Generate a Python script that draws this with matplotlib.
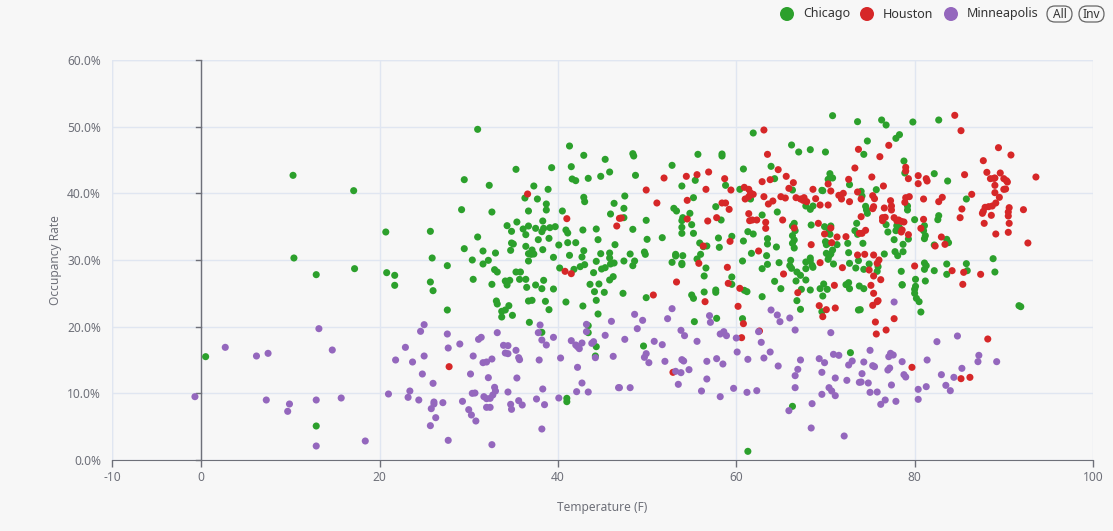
import matplotlib.pyplot as plt
import matplotlib.patches as patches
import numpy as np

# (temperature F, occupancy %)
chicago = [
    (10.3, 42.7), (17.1, 40.4), (20.7, 34.2), (25.7, 34.3), (10.4, 30.3), (12.9, 27.8), (17.2, 28.7),
    (20.8, 28.1), (21.7, 27.7), (21.7, 26.2), (25.7, 26.7), (25.9, 30.3), (26.0, 25.4), (0.5, 15.5), (12.9, 5.1),
    (31.0, 49.6), (41.3, 47.1), (42.9, 45.7), (45.3, 45.1), (35.3, 43.6), (39.3, 43.85), (41.5, 44.0), (45.8, 43.2),
    (44.8, 42.55), (41.6, 42.15), (42.0, 41.9), (43.4, 42.25), (29.5, 42.05), (32.3, 41.2), (37.3, 41.1), (38.9, 40.6),
    (36.3, 39.3), (37.7, 39.15), (42.9, 39.4), (43.0, 38.75), (38.7, 38.4), (46.3, 38.5), (36.7, 37.35), (38.7, 37.5),
    (40.5, 37.35), (45.9, 36.9), (29.2, 37.55), (32.6, 37.2), (35.4, 35.7), (34.3, 35.15), (38.3, 35.85), (34.8, 34.3),
    (36.1, 34.65), (36.7, 35.1), (37.5, 34.75), (38.4, 34.75), (39.1, 34.85), (39.7, 35.0), (38.2, 34.25), (40.9, 34.5),
    (41.1, 34.05), (42.8, 34.5), (44.3, 34.65), (36.4, 33.8), (31.0, 33.45), (39.0, 33.25), (37.8, 33.05), (44.5, 33.05),
    (34.8, 32.55), (35.0, 32.4), (41.1, 32.6), (42.0, 32.6), (40.1, 32.25), (46.4, 32.3), (29.5, 31.7), (36.4, 32.05),
    (34.7, 31.45), (37.1, 31.5), (38.3, 31.55), (36.7, 30.95), (37.3, 30.9), (37.0, 30.85), (42.9, 31.4), (41.3, 30.7),
    (44.8, 30.95), (45.8, 31.05), (31.6, 31.35), (33.0, 31.05), (27.6, 29.15), (30.4, 30.0), (32.2, 29.95), (31.6, 29.4),
    (36.7, 29.85), (39.5, 30.4), (42.7, 30.45), (44.3, 29.8), (45.8, 30.3), (45.9, 29.4), (46.3, 29.55), (40.2, 28.8),
    (41.8, 28.6), (42.5, 29.0), (43.0, 29.3), (44.0, 28.1), (44.9, 28.65), (45.3, 28.85), (46.2, 27.5), (45.8, 27.0),
    (32.9, 28.55), (33.2, 28.2), (35.3, 28.2), (35.8, 28.2), (30.5, 27.1), (32.6, 26.35), (34.1, 26.85), (34.6, 26.95),
    (34.3, 26.25), (36.4, 27.1), (35.7, 27.1), (37.5, 26.25), (38.4, 26.95), (36.5, 25.9), (38.2, 25.7), (39.5, 25.65),
    (43.6, 26.35), (44.6, 26.4), (44.1, 25.25), (45.2, 25.15),
    (27.6, 22.5), (33.1, 23.85), (33.2, 23.4), (34.5, 23.15), (34.1, 22.5), (33.7, 22.3), (33.7, 21.45), (34.9, 21.7),
    (36.7, 23.85), (37.1, 23.95), (38.6, 23.8), (39.0, 22.55), (40.9, 23.7), (42.8, 23.1), (44.5, 21.9), (44.3, 23.95),
    (36.8, 20.65), (38.2, 19.15), (43.4, 20.15), (43.4, 19.1), (44.3, 17.0), (44.2, 15.6), (41.0, 9.25), (41.0, 8.75),
    (70.8, 51.65), (73.6, 50.75), (61.9, 49.05), (66.2, 47.25), (67.0, 46.2), (68.3, 46.55), (70.0, 46.2), (48.4, 45.95),
    (48.5, 45.6), (55.7, 45.85), (58.4, 45.9), (58.4, 45.6), (52.8, 44.2), (48.7, 42.7), (55.4, 41.95), (60.8, 43.65),
    (63.9, 44.05), (64.3, 42.2), (70.5, 42.95), (70.3, 42.1), (70.8, 42.3), (72.7, 41.3), (53.9, 41.1), (58.8, 41.2),
    (60.4, 40.6), (61.6, 39.15), (66.3, 40.5), (69.6, 40.45), (69.7, 40.4), (67.8, 38.1), (68.3, 37.6), (68.6, 38.1),
    (47.5, 39.6), (47.4, 37.75), (47.4, 36.35), (55.2, 39.35), (53.0, 37.75), (53.3, 37.35), (49.9, 35.95), (48.4, 34.6),
    (50.0, 33.1), (51.7, 33.35), (54.0, 36.35), (53.9, 35.9), (54.8, 37.0), (55.0, 35.3), (53.9, 34.9), (53.9, 34.0),
    (55.2, 34.0), (58.3, 36.0), (57.7, 38.0), (58.0, 33.3), (59.5, 33.55), (58.1, 31.9), (60.8, 32.85), (62.9, 36.75),
    (61.3, 34.25), (61.9, 33.9), (61.7, 31.0), (63.5, 33.2), (63.5, 32.4), (64.5, 31.95), (63.4, 30.65), (64.6, 37.2),
    (66.3, 35.1), (66.5, 35.5), (66.6, 34.4), (66.3, 33.65), (66.5, 33.0), (66.3, 32.5), (66.5, 31.8), (68.4, 35.25),
    (69.9, 35.0), (70.6, 35.1), (70.4, 34.5), (70.5, 33.85), (70.0, 32.75), (70.1, 32.3), (70.3, 32.5), (71.3, 32.3),
    (72.5, 32.5), (70.1, 31.0), (70.4, 30.6), (70.6, 30.9), (70.8, 31.5), (73.3, 34.4), (73.5, 35.5), (73.6, 33.85),
    (72.6, 31.1), (48.1, 30.9), (47.4, 29.85), (48.6, 29.85), (48.4, 29.15), (49.7, 31.2), (49.8, 30.85), (53.2, 30.85),
    (53.2, 30.6), (54.0, 30.65), (52.8, 29.65), (53.9, 29.5), (53.9, 29.3), (55.6, 30.15), (55.9, 32.55), (56.0, 30.85),
    (56.3, 32.0), (56.7, 32.1), (56.6, 28.8), (56.4, 27.6), (60.7, 29.85), (59.5, 27.45), (59.5, 26.35), (62.9, 28.7),
    (63.5, 29.35), (64.8, 29.6), (66.1, 29.95), (66.0, 29.15), (66.2, 28.75), (66.8, 28.2), (67.2, 27.7), (67.8, 29.7),
    (67.8, 28.7), (68.3, 30.3), (68.3, 29.9), (68.5, 29.2), (68.6, 28.9), (70.3, 30.1), (70.9, 29.4), (72.7, 29.5),
    (73.4, 28.8), (73.7, 29.9), (64.3, 26.8), (66.7, 26.85), (67.8, 27.0), (69.8, 26.4), (72.6, 26.6), (72.3, 26.3),
    (65.0, 25.7), (67.3, 25.6), (69.4, 25.7),
    (47.3, 25.0), (49.9, 24.35), (55.0, 24.75), (55.2, 24.25), (56.4, 25.2), (57.7, 25.5), (57.7, 25.15), (60.9, 25.45),
    (61.2, 25.25), (62.9, 24.5), (66.8, 23.9), (67.2, 22.6), (68.3, 25.5), (70.2, 25.6), (69.7, 24.6), (72.7, 25.7),
    (73.8, 26.1), (69.6, 22.25), (73.7, 22.5), (60.7, 21.2), (57.8, 21.25), (55.3, 20.75), (49.6, 17.1), (72.8, 16.1),
    (66.3, 8.05), (61.3, 1.3),
    (76.3, 51.0), (76.8, 50.25), (79.8, 50.7), (82.7, 51.0), (77.9, 48.25), (78.3, 48.8), (74.7, 47.85), (74.3, 45.85),
    (78.8, 44.85), (78.9, 43.05), (82.2, 42.95), (83.7, 41.85), (75.7, 40.55), (74.0, 40.3), (74.1, 39.6), (85.8, 39.15),
    (74.5, 38.05), (74.6, 37.5), (74.7, 37.0), (79.2, 38.1), (79.2, 37.5), (80.0, 36.05), (82.7, 36.65), (82.6, 36.05),
    (76.8, 35.3), (78.0, 35.15), (78.3, 34.85), (77.0, 34.2), (77.9, 34.4), (81.1, 35.15), (81.0, 34.4), (81.2, 33.65),
    (81.1, 33.2), (82.2, 32.25), (83.6, 33.1), (83.8, 32.6), (77.7, 33.05), (78.7, 32.35), (79.3, 33.15), (78.7, 31.25),
    (77.8, 31.25), (78.1, 30.65), (76.6, 30.9), (74.2, 32.5), (88.8, 30.2), (89.0, 28.2), (85.8, 29.45), (85.9, 28.4),
    (83.6, 29.4), (83.6, 27.85), (82.2, 28.4), (81.1, 29.55), (81.3, 29.15), (81.1, 28.6), (81.2, 26.85), (80.1, 27.1),
    (80.1, 26.05), (78.5, 28.3), (78.6, 26.3), (75.8, 28.3), (75.9, 29.0), (74.9, 29.4), (74.3, 28.6),
    (74.3, 25.7), (78.6, 26.25), (80.0, 25.6), (80.0, 25.0), (80.2, 24.25), (80.5, 23.75), (80.7, 22.2), (73.9, 22.55),
    (91.7, 23.15), (91.9, 23.0),
]

houston = [
    (36.6, 39.9), (41.0, 36.2), (46.9, 36.25), (46.6, 35.1), (40.8, 28.3), (41.5, 27.95), (27.8, 14.0),
    (63.1, 49.5), (73.7, 46.6), (63.5, 45.85), (51.9, 42.3), (54.4, 42.55), (55.6, 42.8), (56.9, 43.2), (58.7, 42.2),
    (64.7, 43.55), (65.6, 42.55), (63.8, 42.05), (62.9, 41.75), (66.4, 41.6), (73.3, 43.8), (72.6, 42.1), (70.3, 41.4),
    (49.9, 40.5), (56.6, 40.6), (59.4, 40.5), (60.9, 40.9), (61.4, 40.6), (61.9, 39.85), (61.6, 40.05), (61.0, 39.15),
    (61.4, 39.5), (63.1, 39.5), (63.6, 38.4), (64.1, 38.85), (65.0, 39.5), (65.5, 39.3), (65.9, 40.75), (66.7, 39.35),
    (67.2, 39.15), (67.6, 39.35), (67.9, 38.75), (67.5, 38.95), (68.6, 40.6), (70.6, 40.35), (68.9, 39.2), (69.4, 38.25),
    (70.3, 38.25), (71.5, 39.7), (71.8, 39.15), (72.0, 40.0), (72.7, 38.75), (73.6, 40.2), (47.1, 36.3), (51.1, 38.55),
    (54.5, 38.95), (54.5, 36.15), (56.8, 35.85), (57.8, 36.35), (58.4, 38.55), (58.8, 38.55), (59.2, 37.6), (59.3, 32.8),
    (61.4, 36.95), (61.5, 35.9), (61.8, 36.0), (62.3, 36.0), (63.3, 35.65), (63.3, 34.75), (62.5, 31.35), (65.2, 36.0),
    (66.5, 34.8), (68.4, 32.3), (69.2, 35.5), (69.9, 33.9), (70.6, 34.8), (71.3, 33.45), (72.3, 33.5), (70.7, 32.6),
    (73.8, 34.0), (73.6, 30.75), (56.3, 32.1), (55.8, 29.5), (59.0, 28.9), (59.1, 26.5), (53.3, 26.7), (60.4, 25.75),
    (65.3, 27.9), (69.4, 29.6), (71.9, 28.85), (71.0, 26.2),
    (50.7, 24.75), (56.5, 23.75), (66.9, 25.1), (69.3, 23.15), (70.1, 22.55), (71.1, 22.8), (69.7, 21.5), (60.2, 23.05),
    (60.8, 20.45), (62.6, 19.35), (60.6, 18.35), (52.9, 13.15),
    (84.5, 51.7), (85.2, 49.4), (77.1, 47.2), (89.4, 46.85), (90.8, 45.75), (76.1, 45.5), (87.7, 44.9), (79.0, 43.9),
    (79.0, 43.35), (79.3, 42.2), (80.4, 42.65), (80.4, 41.45), (81.3, 42.2), (81.4, 41.85), (85.6, 42.8), (75.2, 42.45),
    (76.5, 41.1), (88.1, 43.15), (88.5, 42.2), (88.9, 42.25), (89.0, 42.3), (89.6, 43.05), (90.0, 42.2), (90.4, 41.7),
    (90.3, 41.9), (93.6, 42.45), (89.0, 41.2), (90.2, 40.65), (90.0, 40.6), (89.0, 40.1), (89.5, 39.4), (86.4, 39.85),
    (89.1, 38.55), (88.7, 38.1), (88.3, 38.0), (87.9, 37.9), (87.7, 37.3), (87.6, 37.0), (88.6, 36.7), (90.6, 37.85),
    (90.5, 37.2), (90.5, 36.6), (92.2, 37.55), (85.3, 37.65), (85.1, 36.35), (87.8, 35.5), (90.6, 35.5), (89.1, 33.9),
    (90.5, 34.15), (92.7, 32.55), (81.0, 39.15), (82.7, 38.75), (83.1, 39.4), (79.0, 39.35), (79.4, 39.5), (78.9, 38.65),
    (77.3, 38.9), (77.4, 38.1), (77.4, 37.5), (76.6, 37.8), (75.4, 38.0), (75.3, 37.7), (75.3, 39.65), (75.5, 39.2),
    (74.0, 39.15), (76.4, 36.35), (76.7, 36.4), (76.4, 35.9), (77.7, 36.35), (78.0, 35.9), (78.2, 36.0), (78.5, 35.8),
    (78.8, 35.7), (78.6, 34.5), (78.5, 34.2), (79.3, 33.8), (81.0, 36.1), (80.7, 34.75), (83.0, 33.45), (82.3, 32.1),
    (83.4, 32.35), (74.5, 34.45), (74.0, 36.5), (74.1, 34.0), (74.4, 30.85), (75.4, 30.75), (76.0, 30.0), (75.8, 29.5),
    (74.9, 28.5), (75.4, 27.6), (76.2, 27.05), (75.1, 26.2), (80.0, 29.1), (84.2, 28.4), (85.5, 28.15), (87.4, 27.85),
    (85.4, 26.35),
    (75.4, 25.0), (75.8, 23.75), (75.3, 23.2), (75.9, 23.9), (75.6, 20.7), (77.7, 21.2), (76.8, 19.5), (75.7, 18.9),
    (88.2, 18.15), (79.7, 13.9), (85.2, 12.2), (86.2, 12.4),
]

minneapolis = [
    (-0.7, 9.5), (2.7, 16.9), (6.2, 15.6), (7.5, 16.0), (13.2, 19.7), (14.7, 16.5), (7.3, 9.0), (9.9, 8.4), (9.7, 7.3),
    (12.9, 9.0), (15.7, 9.3), (12.9, 2.1), (18.4, 2.85), (21.0, 9.9), (22.9, 16.9), (21.8, 15.0), (23.7, 14.7),
    (25.0, 15.6), (25.0, 20.3), (24.6, 19.3), (24.8, 12.9), (26.0, 11.5), (23.4, 10.35), (23.2, 9.4), (24.4, 9.0),
    (26.1, 8.7), (26.1, 8.4), (25.8, 7.7), (26.3, 6.35), (25.7, 5.15),
    (27.6, 18.9), (27.7, 16.8), (29.0, 17.4), (31.1, 18.1), (31.4, 18.4), (33.2, 19.1), (30.5, 15.6), (31.6, 14.6),
    (32.0, 14.7), (32.6, 15.15), (33.9, 17.2), (34.4, 17.15), (34.1, 16.05), (34.4, 15.95), (35.3, 16.45), (35.6, 15.35),
    (35.7, 15.05), (30.2, 12.9), (32.2, 12.35), (35.4, 12.3), (32.9, 10.9), (33.0, 10.35), (32.7, 9.75), (30.4, 10.0),
    (30.7, 10.05), (31.7, 9.5), (32.0, 9.2), (32.4, 9.25), (34.4, 10.2), (32.0, 7.9), (32.4, 7.9), (29.3, 8.8),
    (27.1, 8.6), (30.0, 7.55), (30.3, 6.75), (30.8, 5.85), (27.7, 2.95), (32.6, 2.3), (34.7, 8.35), (34.8, 7.6),
    (35.6, 8.9), (36.0, 8.25), (37.6, 9.15), (38.5, 8.3), (38.3, 10.65), (40.1, 9.3), (38.2, 4.65), (38.0, 20.25),
    (37.8, 19.1), (38.2, 18.0), (38.7, 17.25), (39.5, 18.4), (37.9, 15.0), (40.3, 15.3), (41.5, 17.9), (42.0, 17.25),
    (42.4, 16.7), (42.2, 17.0), (42.7, 17.55), (43.2, 20.35), (43.2, 19.25), (43.8, 17.5), (44.0, 17.75), (44.2, 15.35),
    (42.2, 13.9), (42.7, 11.55), (42.1, 10.25), (43.4, 10.2), (46.0, 20.8), (45.3, 18.7), (46.2, 15.55), (46.8, 10.85),
    (48.6, 21.85), (49.5, 20.95), (52.8, 22.7), (52.3, 21.2), (48.9, 19.7), (47.5, 18.1), (50.8, 17.8), (51.7, 17.3),
    (53.8, 19.45), (54.2, 18.65), (55.6, 17.8), (57.0, 21.65), (57.1, 20.65), (58.2, 18.9), (58.6, 19.25), (58.9, 18.65),
    (60.0, 18.3), (62.5, 19.25), (62.8, 17.65), (63.9, 22.5), (64.6, 21.75), (64.9, 20.75), (66.0, 21.3), (66.6, 19.5),
    (70.6, 19.1), (49.9, 15.95), (49.7, 15.4), (50.2, 14.6), (52.0, 14.8), (53.9, 15.05), (54.1, 14.85), (53.2, 13.3),
    (53.8, 13.1), (54.7, 13.55), (53.5, 11.35), (56.7, 14.8), (57.8, 15.2), (58.5, 14.4), (56.7, 12.15), (56.1, 10.35),
    (58.2, 9.5), (59.7, 10.75), (60.1, 16.2), (61.3, 15.1), (63.1, 15.3), (63.8, 16.2), (64.7, 14.1), (61.2, 10.15),
    (62.3, 10.4), (67.2, 15.0), (66.9, 13.6), (66.6, 12.65), (66.6, 10.85), (69.3, 15.2), (69.9, 14.6), (69.6, 13.15),
    (71.1, 12.3), (70.9, 15.85), (71.5, 15.7), (72.6, 14.25), (73.0, 14.85), (72.4, 11.95), (73.8, 11.65), (70.4, 10.85),
    (70.7, 10.35), (71.1, 9.65), (69.6, 9.85), (68.5, 8.45), (65.9, 7.4), (68.4, 4.8), (72.1, 3.6), (46.9, 10.85),
    (48.1, 10.85),
    (77.7, 23.7), (82.5, 17.75), (84.8, 18.6), (75.0, 16.45), (74.3, 14.7), (75.3, 14.15), (75.5, 14.0), (77.1, 15.5),
    (77.3, 16.0), (77.6, 15.75), (78.6, 14.75), (81.4, 15.0), (77.0, 13.5), (77.2, 13.8), (74.1, 12.95), (74.0, 11.7),
    (74.8, 11.55), (78.8, 12.8), (79.0, 12.45), (77.4, 11.25), (75.0, 10.15), (75.8, 10.2), (76.7, 9.0), (76.2, 8.35),
    (77.9, 8.8), (80.4, 10.6), (80.4, 9.1), (81.3, 11.0), (83.0, 12.8), (83.5, 11.2), (84.0, 10.4), (84.4, 12.4),
    (85.3, 13.75), (87.2, 15.7), (87.1, 14.75), (89.2, 14.75),
]

series_names = ["Chicago", "Houston", "Minneapolis"]
series_colors = ["#2ca02c", "#d62728", "#9467bd"]
x_ticks = [-10, 0, 20, 40, 60, 80, 100]
y_ticks = [0, 10, 20, 30, 40, 50, 60]

BG = "#f7f7f7"
GRID = "#e0e6f1"
AXIS = "#6e7079"
plt.rcParams['font.family'] = ['Noto Sans', 'DejaVu Sans']

W, H = 1113, 531
fig = plt.figure(figsize=(W / 100, H / 100), dpi=100, facecolor=BG)
ax = fig.add_axes([112 / W, (H - 460) / H, (1093 - 112) / W, 400 / H])
ax.set_facecolor(BG)
ax.set_xlim(-10, 100)
ax.set_ylim(0, 60)

for name, pts, col in zip(series_names, [chicago, houston, minneapolis], series_colors):
    arr = np.array(pts)
    ax.scatter(arr[:, 0], arr[:, 1], s=26, color=col, edgecolors='none', zorder=3, label=name)

# grid + axes
ax.set_xticks(x_ticks)
ax.set_yticks(y_ticks)
ax.set_xticklabels([str(t) for t in x_ticks])
ax.set_yticklabels(["%.1f%%" % t for t in y_ticks])
ax.grid(True, color=GRID, lw=1, zorder=0)
for s in ['top', 'right', 'left']:
    ax.spines[s].set_visible(False)
ax.spines['bottom'].set_color(AXIS)
ax.tick_params(axis='x', colors=AXIS, length=5, width=1, labelsize=8.6, pad=3)
ax.tick_params(axis='y', colors=AXIS, length=0, labelsize=8.6, pad=8)
for lbl in ax.get_xticklabels() + ax.get_yticklabels():
    lbl.set_color(AXIS)
ax.axvline(-10, color=GRID, lw=1, zorder=0)
ax.axhline(60, color=GRID, lw=1, zorder=0)

# y axis line sits at temperature 0
ax.axvline(0, color=AXIS, lw=1, zorder=2)
for t in y_ticks:
    ax.plot([-0.56, 0], [t, t], color=AXIS, lw=1, zorder=2, clip_on=False)

ax.set_xlabel("Temperature (F)", color=AXIS, fontsize=8.6, labelpad=12)
fig.text(55 / W, 1 - 260 / H, "Occupancy Rate", rotation=90, color=AXIS, fontsize=8.6,
         ha='center', va='center')

# legend drawn in pixel coordinates
lg = fig.add_axes([0, 0, 1, 1], facecolor='none')
lg.set_xlim(0, W)
lg.set_ylim(H, 0)
lg.axis('off')
leg_x = [787, 867, 951]
for name, col, cx in zip(series_names, series_colors, leg_x):
    lg.add_patch(patches.Circle((cx, 14), 7, fc=col, ec='none'))
    lg.text(cx + 16, 14, name, ha='left', va='center', fontsize=9, color='#333333')
for label, bx in [("All", 1047), ("Inv", 1079)]:
    lg.add_patch(patches.FancyBboxPatch((bx, 6), 25, 16, boxstyle="round,pad=0,rounding_size=8",
                                        fc='none', ec='#666666', lw=0.9))
    lg.text(bx + 12.5, 14.5, label, ha='center', va='center', fontsize=8.6, color='#333333')

fig.savefig("out.png", dpi=100, facecolor=BG)
